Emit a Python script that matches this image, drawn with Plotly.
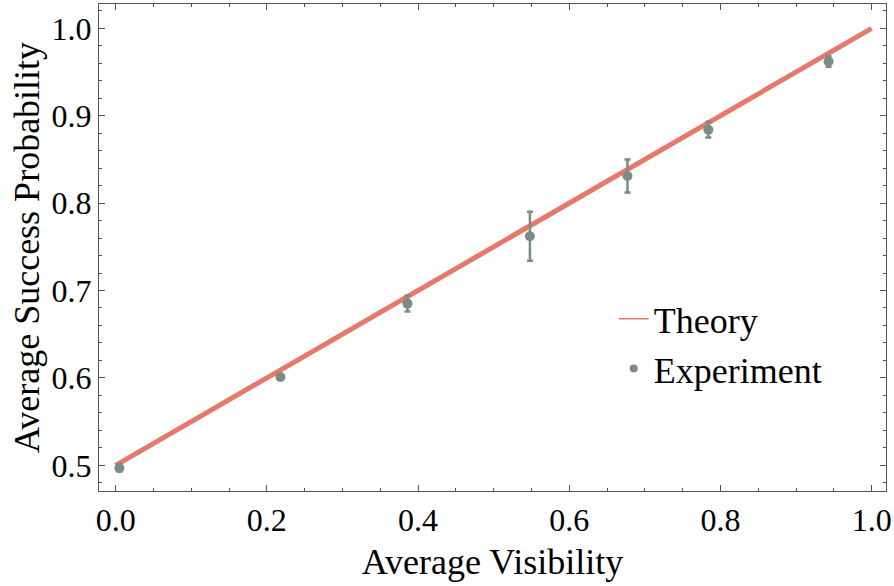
import plotly.graph_objects as go

# Data
theory_x = [0.0, 1.0]
theory_y = [0.5, 1.0]
exp_x = [0.005, 0.218, 0.386, 0.548, 0.677, 0.784, 0.943]
exp_y = [0.497, 0.601, 0.685, 0.762, 0.831, 0.884, 0.962]
exp_err = [0.004, 0.003, 0.009, 0.028, 0.019, 0.009, 0.006]

x_ticks = [0.0, 0.2, 0.4, 0.6, 0.8, 1.0]
y_ticks = [0.5, 0.6, 0.7, 0.8, 0.9, 1.0]

line_color = "#E57A6B"
pt_color = "#7A8C86"
frame_color = "#555555"
FONT = "Liberation Serif"

fig = go.Figure()
fig.add_trace(go.Scatter(x=theory_x, y=theory_y, mode="lines",
                         line=dict(color=line_color, width=5),
                         showlegend=False, hoverinfo="skip"))
fig.add_trace(go.Scatter(x=exp_x, y=exp_y, mode="markers",
                         marker=dict(color=pt_color, size=10),
                         error_y=dict(type="data", array=exp_err, color=pt_color,
                                      thickness=2.5, width=3),
                         showlegend=False))
# legend entries
fig.add_trace(go.Scatter(x=[None], y=[None], mode="lines", name="Theory",
                         line=dict(color=line_color, width=1.5)))
fig.add_trace(go.Scatter(x=[None], y=[None], mode="markers", name="Experiment",
                         marker=dict(color=pt_color, size=8)))

axis_common = dict(
    showgrid=False, zeroline=False, showline=True, linecolor=frame_color, linewidth=1.2,
    mirror="allticks", ticks="inside", ticklen=6, tickwidth=1, tickcolor=frame_color,
    tickfont=dict(family=FONT, size=32, color="black"), automargin=False,
)

fig.update_xaxes(range=[-0.022, 1.019], tickvals=x_ticks,
                 ticktext=[f"{v:.1f}" for v in x_ticks],
                 minor=dict(dtick=0.05, ticks="inside", ticklen=3, tickcolor=frame_color),
                 title=dict(text="Average Visibility", font=dict(family=FONT, size=36, color="black"),
                            standoff=12),
                 **axis_common)
fig.update_yaxes(range=[0.4706, 1.0278], tickvals=y_ticks,
                 ticktext=[f"{v:.1f}" for v in y_ticks],
                 minor=dict(dtick=0.02, ticks="inside", ticklen=3, tickcolor=frame_color),
                 title=dict(text="Average Success Probability", font=dict(family=FONT, size=36, color="black"),
                            standoff=0),
                 **axis_common)

fig.update_layout(
    width=894, height=586,
    margin=dict(l=99, r=8, t=4, b=95),
    paper_bgcolor="white", plot_bgcolor="white",
    legend=dict(x=0.654, y=0.415, xanchor="left", yanchor="top",
                font=dict(family=FONT, size=36, color="black"),
                bgcolor="rgba(0,0,0,0)", itemwidth=30, tracegroupgap=0),
)

fig.write_html("out.html", config={"displayModeBar": False},
               post_script="document.body.style.margin='0';document.body.style.padding='0';")
